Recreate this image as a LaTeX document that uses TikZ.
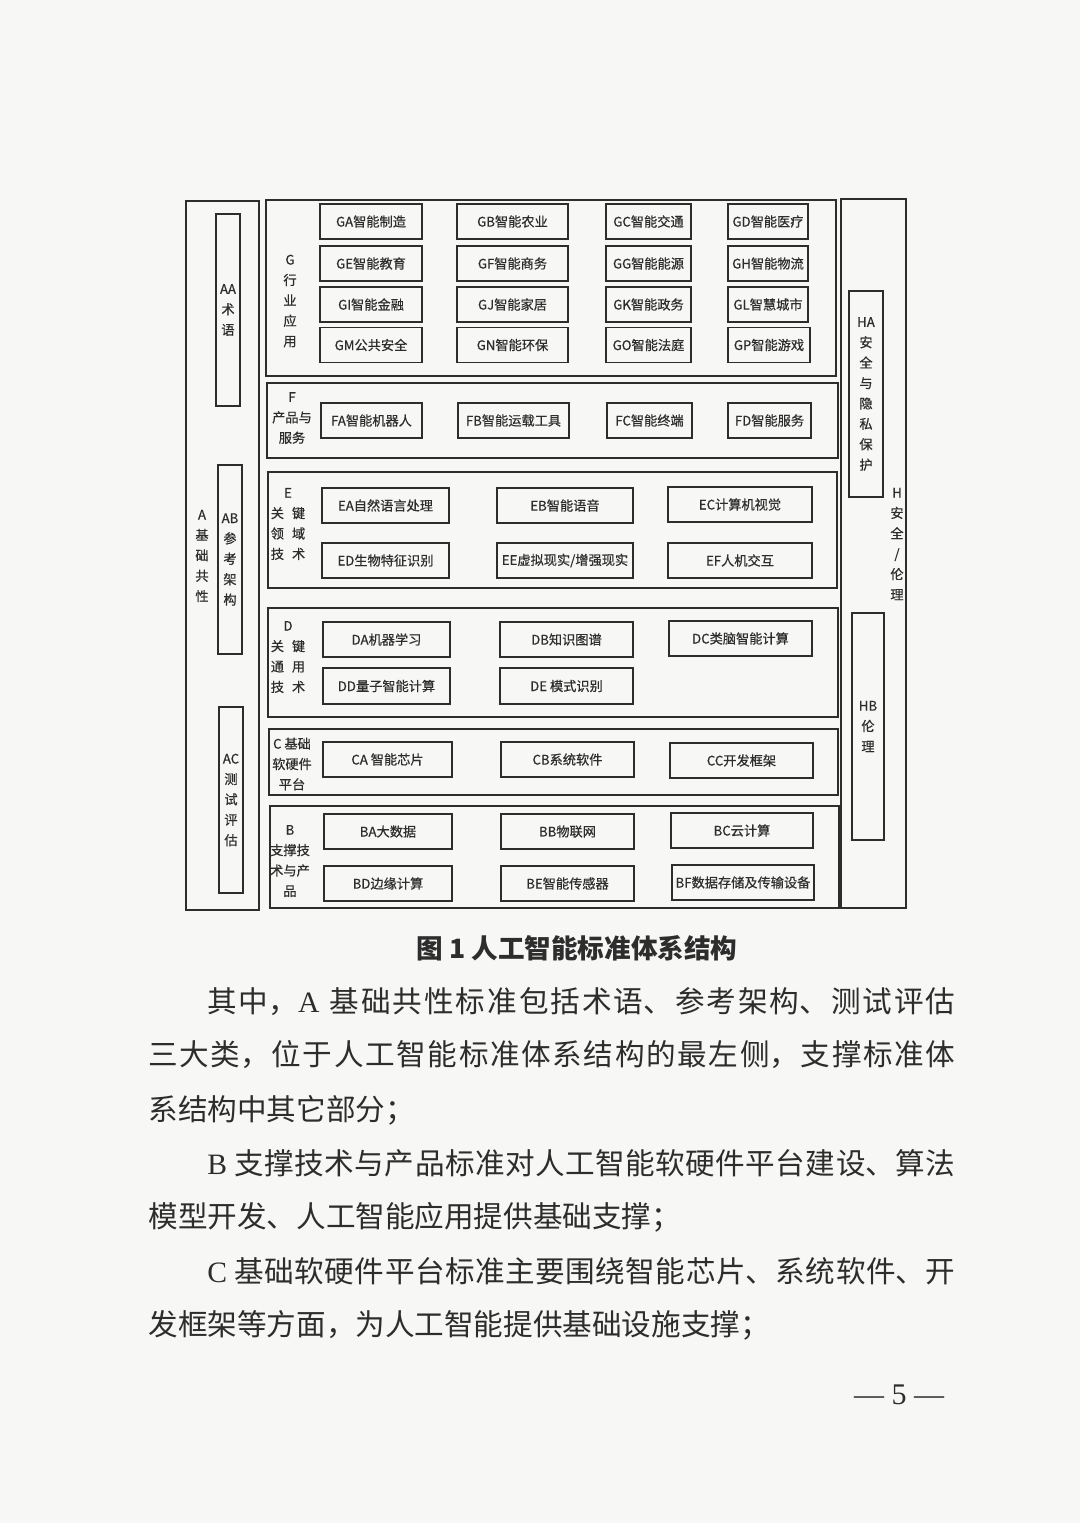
\documentclass[tikz,border=0pt]{standalone}
\usepackage{fontspec}
\setmainfont{Liberation Serif}
\newfontfamily\cjk{Noto Sans CJK SC}
\newfontfamily\cjkheavy[FakeBold=0.6]{Noto Sans CJK SC}
\XeTeXlinebreaklocale "zh"
\XeTeXlinebreakskip = 0pt plus 1pt
\definecolor{pagebg}{RGB}{247,247,245}
\definecolor{ink}{RGB}{45,45,45}
\newcommand{\boxfont}{\fontsize{6.6}{10.2}\selectfont\cjkheavy}
\newcommand{\bodyfont}{\fontsize{14.8}{18}\selectfont\cjk}

\begin{document}
\begin{tikzpicture}[x=0.5pt, y=-0.5pt,
    frame/.style={draw=ink, line width=0.7pt},
    itembox/.style={draw=ink, line width=0.8pt, inner sep=0pt, minimum height=17.5pt, font=\boxfont, text=ink},
    sidebox/.style={draw=ink, line width=0.8pt, inner sep=0pt, align=center, font=\boxfont, text=ink},
    vlabel/.style={inner sep=0pt, align=center, font=\boxfont, text=ink},
    bodyline/.style={anchor=west, inner sep=0pt, font=\bodyfont, text=ink, align=justify}]
    \fill[pagebg] (0,0) rectangle (1080,1523);
    \useasboundingbox (0,0) rectangle (1080,1523);

    % A column
    \draw[frame] (186,201) rectangle (259,910);
    \node[vlabel] (alab) at (202,556) {A\\基\\础\\共\\性};
    \node[sidebox, minimum width=12pt, minimum height=96pt] (aa) at (228,310) {AA\\术\\语};
    \node[sidebox, minimum width=12pt, minimum height=94.5pt] (ab) at (230,559.5) {AB\\参\\考\\架\\构};
    \node[sidebox, minimum width=12pt, minimum height=93pt] (ac) at (231,800) {AC\\测\\试\\评\\估};

    % G
    \draw[frame] (266,200) rectangle (836,376);
    \node[vlabel] (glab) at (290,301) {G\\行\\业\\应\\用};
    \node[itembox, minimum width=51pt] (ga) at (371,221.5) {GA智能制造};
    \node[itembox, minimum width=55.5pt] (gb) at (512.5,221.5) {GB智能农业};
    \node[itembox, minimum width=42.5pt] (gc) at (648.5,221.5) {GC智能交通};
    \node[itembox, minimum width=40pt] (gd) at (768,221.5) {GD智能医疗};
    \node[itembox, minimum width=51pt] (ge) at (371,263.5) {GE智能教育};
    \node[itembox, minimum width=55.5pt] (gf) at (512.5,263.5) {GF智能商务};
    \node[itembox, minimum width=42.5pt] (gg) at (648.5,263.5) {GG智能能源};
    \node[itembox, minimum width=40pt] (gh) at (768,263.5) {GH智能物流};
    \node[itembox, minimum width=51pt] (gi) at (371,304.5) {GI智能金融};
    \node[itembox, minimum width=55.5pt] (gj) at (512.5,304.5) {GJ智能家居};
    \node[itembox, minimum width=42.5pt] (gk) at (648.5,304.5) {GK智能政务};
    \node[itembox, minimum width=40pt] (gl) at (768,304.5) {GL智慧城市};
    \node[itembox, minimum width=51pt] (gm) at (371,345) {GM公共安全};
    \node[itembox, minimum width=55.5pt] (gn) at (512.5,345) {GN智能环保};
    \node[itembox, minimum width=42.5pt] (go) at (648.5,345) {GO智能法庭};
    \node[itembox, minimum width=41pt] (gp) at (769,345) {GP智能游戏};

    % F
    \draw[frame] (267,383) rectangle (838,458);
    \node[vlabel] (flab) at (292,418) {F\\产品与\\服务};
    \node[itembox, minimum width=50.5pt] (fa) at (371.5,420.5) {FA智能机器人};
    \node[itembox, minimum width=55.5pt] (fb) at (513.5,420.5) {FB智能运载工具};
    \node[itembox, minimum width=42.5pt] (fc) at (649.5,420.5) {FC智能终端};
    \node[itembox, minimum width=41.5pt] (fd) at (769.5,420.5) {FD智能服务};

    % E
    \draw[frame] (268,472) rectangle (837,588);
    \node[vlabel] (elab) at (288,524) {E\\关\hspace{4pt}键\\领\hspace{4pt}域\\技\hspace{4pt}术};
    \node[itembox, minimum width=63.5pt] (ea) at (385.5,505.5) {EA自然语言处理};
    \node[itembox, minimum width=68pt] (eb) at (565,505.5) {EB智能语音};
    \node[itembox, minimum width=72pt] (ec) at (740,504.5) {EC计算机视觉};
    \node[itembox, minimum width=63.5pt] (ed) at (385.5,560.5) {ED生物特征识别};
    \node[itembox, minimum width=68pt] (ee) at (565,560.5) {EE虚拟现实/增强现实};
    \node[itembox, minimum width=72pt] (ef) at (740,560.5) {EF人机交互};

    % D
    \draw[frame] (268,608) rectangle (838,717);
    \node[vlabel] (dlab) at (288,657) {D\\关\hspace{4pt}键\\通\hspace{4pt}用\\技\hspace{4pt}术};
    \node[itembox, minimum width=63.5pt] (da) at (386.5,639.5) {DA机器学习};
    \node[itembox, minimum width=66.5pt] (db) at (566.5,639.5) {DB知识图谱};
    \node[itembox, minimum width=71.5pt] (dc) at (740.5,638.5) {DC类脑智能计算};
    \node[itembox, minimum width=63.5pt, minimum height=18pt] (dd) at (386.5,686) {DD量子智能计算};
    \node[itembox, minimum width=66.5pt, minimum height=18pt] (de) at (566.5,686) {DE 模式识别};

    % C
    \draw[frame] (269,729) rectangle (838,795);
    \node[vlabel] (clab) at (292,764) {C 基础\\软硬件\\平台};
    \node[itembox, minimum width=64.5pt] (ca) at (387.5,759.5) {CA 智能芯片};
    \node[itembox, minimum width=66.5pt] (cb) at (567.5,759.5) {CB系统软件};
    \node[itembox, minimum width=71.5pt] (cc) at (741.5,760.5) {CC开发框架};

    % B
    \draw[frame] (270,806) rectangle (839,908);
    \node[vlabel] (blab) at (290,861) {B\\支撑技\\术与产\\品};
    \node[itembox, minimum width=64pt] (ba) at (388,831.5) {BA大数据};
    \node[itembox, minimum width=66.5pt] (bb) at (567.5,831.5) {BB物联网};
    \node[itembox, minimum width=71pt] (bc) at (742,830.5) {BC云计算};
    \node[itembox, minimum width=64pt] (bd) at (388,883.5) {BD边缘计算};
    \node[itembox, minimum width=66.5pt] (be) at (567.5,883.5) {BE智能传感器};
    \node[itembox, minimum width=71pt] (bf) at (743,882.5) {BF数据存储及传输设备};

    % H column
    \draw[frame] (841,199) rectangle (906,908);
    \node[sidebox, minimum width=17pt, minimum height=103pt] (ha) at (866,394) {HA\\安\\全\\与\\隐\\私\\保\\护};
    \node[vlabel] (hlab) at (897,544) {H\\安\\全\\/\\伦\\理};
    \node[sidebox, minimum width=16pt, minimum height=113.5pt] (hb) at (868,726.5) {HB\\伦\\理};

    % caption and text
    \node[inner sep=0pt, text=ink, font=\fontsize{13.3}{16}\selectfont\cjk\bfseries] (cap) at (577,948) {图 1 人工智能标准体系结构};
    \node[bodyline, text width=374pt] (l1) at (207,1002) {\noindent\parfillskip=0pt 其中，{\rmfamily A} 基础共性标准包括术语、参考架构、测试评估\par};
    \node[bodyline, text width=403.5pt] (l2) at (148,1055) {\noindent\parfillskip=0pt 三大类，位于人工智能标准体系结构的最左侧，支撑标准体\par};
    \node[bodyline] (l3) at (148,1110) {系结构中其它部分；};
    \node[bodyline, text width=374pt] (l4) at (207,1163) {\noindent\parfillskip=0pt {\rmfamily B} 支撑技术与产品标准对人工智能软硬件平台建设、算法\par};
    \node[bodyline] (l5) at (148,1217) {模型开发、人工智能应用提供基础支撑；};
    \node[bodyline, text width=374pt] (l6) at (207,1271) {\noindent\parfillskip=0pt {\rmfamily C} 基础软硬件平台标准主要围绕智能芯片、系统软件、开\par};
    \node[bodyline] (l7) at (148,1325) {发框架等方面，为人工智能提供基础设施支撑；};
    \node[inner sep=0pt, text=ink, font=\fontsize{15}{18}\selectfont] (pg) at (899,1395) {— 5 —};
\end{tikzpicture}
\end{document}
